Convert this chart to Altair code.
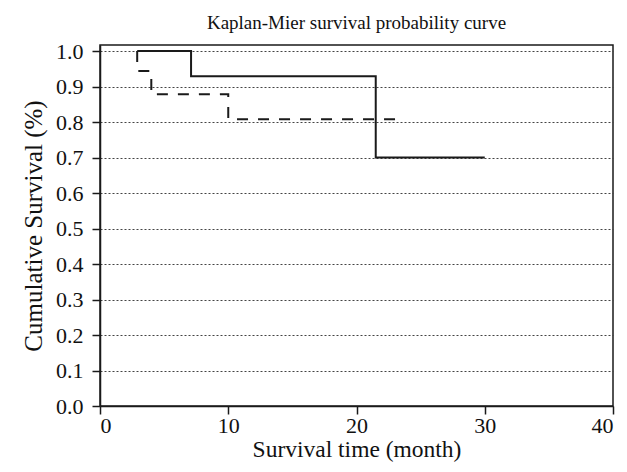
import altair as alt
import pandas as pd

# Group A (solid)
solid_time = [2.9, 7.1, 21.5, 30.0]
solid_surv = [1.0, 0.929, 0.70, 0.70]
# Group B (dashed)
dash_time = [2.9, 2.9, 4.0, 10.0, 23.3]
dash_surv = [1.0, 0.944, 0.878, 0.808, 0.808]

x_ticks = [0, 10, 20, 30, 40]
y_ticks = [0.0, 0.1, 0.2, 0.3, 0.4, 0.5, 0.6, 0.7, 0.8, 0.9, 1.0]

df_solid = pd.DataFrame({"t": solid_time, "s": solid_surv, "o": range(len(solid_time))})
df_dash = pd.DataFrame({"t": dash_time, "s": dash_surv, "o": range(len(dash_time))})

FONT = "Liberation Serif"

x_enc = alt.X("t:Q", scale=alt.Scale(domain=[0, 40], nice=False, zero=False),
              axis=alt.Axis(values=x_ticks, title="Survival time (month)", grid=False,
                            tickSize=8, labelPadding=1, titlePadding=1, labelOverlap=False,
                            titleFontSize=23.5))
y_enc = alt.Y("s:Q", scale=alt.Scale(domain=[0, 1.017], nice=False),
              axis=alt.Axis(values=y_ticks, format=".1f", title="Cumulative Survival (%)",
                            grid=True, gridDash=[2, 2], gridColor="#444", gridWidth=1,
                            tickSize=8, labelPadding=9, titlePadding=9, labelOverlap=False,
                            titleFontSize=25))

dashed = alt.Chart(df_dash).mark_line(interpolate="step-after", color="#1a1a1a",
                                      strokeWidth=2, strokeDash=[11, 10]).encode(
    x=x_enc, y=y_enc, order="o:Q")
solid = alt.Chart(df_solid).mark_line(interpolate="step-after", color="#1a1a1a",
                                      strokeWidth=2).encode(x=x_enc, y=y_enc, order="o:Q")

chart = (dashed + solid).properties(
    width=513, height=361,
    title=alt.TitleParams("Kaplan-Mier survival probability curve", fontSize=19,
                          font=FONT, fontWeight="normal", color="#111", offset=7,
                          anchor="middle"),
    autosize=alt.AutoSizeParams(type="none"),
    padding={"left": 92, "top": 37, "right": 6, "bottom": 58},
).configure(background="white").configure_view(
    stroke="#1a1a1a", strokeWidth=1.5
).configure_axis(
    labelFont=FONT, titleFont=FONT, labelFontSize=22,
    labelColor="#111", titleColor="#111", titleFontWeight="normal",
    domainColor="#1a1a1a", tickColor="#1a1a1a", domainWidth=1.5, tickWidth=1.5,
)

chart.save("out.html", embed_options={"renderer": "svg", "actions": False})
